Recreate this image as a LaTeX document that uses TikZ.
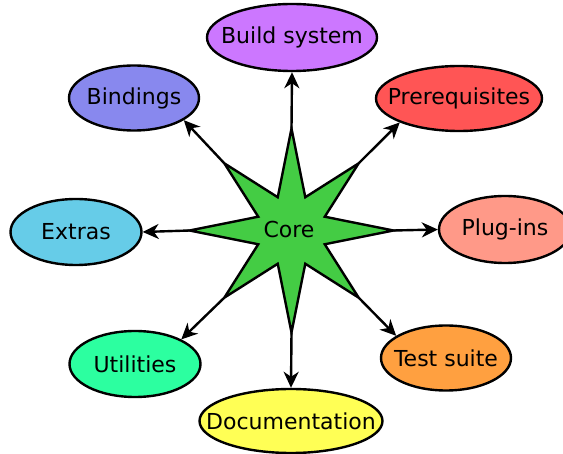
\documentclass[tikz,border=0pt]{standalone}
\usepackage{fontspec}
\setmainfont{DejaVu Sans}
\usetikzlibrary{arrows.meta,shapes.geometric,calc}
\definecolor{cbuild}{HTML}{CC77FF}
\definecolor{cprereq}{HTML}{FF5555}
\definecolor{cbind}{HTML}{8888EE}
\definecolor{cextra}{HTML}{66CCE8}
\definecolor{cplug}{HTML}{FF9988}
\definecolor{cutil}{HTML}{2CFFA0}
\definecolor{ctest}{HTML}{FFA040}
\definecolor{cdoc}{HTML}{FFFF55}
\definecolor{cstar}{HTML}{44CC44}
\newcommand{\lbl}[1]{\makebox[0pt]{#1}}
\begin{document}
\begin{tikzpicture}[x=1pt,y=-1pt,
  font=\fontsize{22}{26}\selectfont,
  leaf/.style={ellipse, draw, line width=2.4pt, inner sep=0pt},
  conn/.style={line width=2.4pt, -{Stealth[length=16pt,width=15pt,inset=5pt]}}]
\useasboundingbox (0,0) rectangle (563,454);

% outer nodes
\node[leaf, fill=cbuild,  minimum width=170pt, minimum height=67pt] (bs) at (292,37.5) {\lbl{Build system}};
\node[leaf, fill=cprereq, minimum width=166pt, minimum height=65pt] (pr) at (459,98.5) {\lbl{Prerequisites}};
\node[leaf, fill=cbind,   minimum width=130pt, minimum height=65pt] (bi) at (134,98) {\lbl{Bindings}};
\node[leaf, fill=cextra,  minimum width=131pt, minimum height=66pt] (ex) at (76,232) {\lbl{Extras}};
\node[leaf, fill=cplug,   minimum width=132pt, minimum height=67pt] (pl) at (505,229.5) {\lbl{Plug-ins}};
\node[leaf, fill=cutil,   minimum width=131pt, minimum height=66pt] (ut) at (135,364) {\lbl{Utilities}};
\node[leaf, fill=ctest,   minimum width=130pt, minimum height=65pt] (ts) at (446,358) {\lbl{Test suite}};
\node[leaf, fill=cdoc,    minimum width=183pt, minimum height=64pt] (dc) at (291,421) {\lbl{Documentation}};

% star
\coordinate (sc) at (291.5,230.5);
\foreach \i in {0,...,7} {
  \pgfmathsetmacro\ang{\i*45}
  \pgfmathsetmacro\rad{mod(\i,2)==0 ? 102 : 95}
  \coordinate (o\i) at ($(sc)+(\ang:\rad)$);
  \coordinate (n\i) at ($(sc)+(\ang+22.5:36)$);
}
\draw[fill=cstar, line width=2.4pt, line join=miter]
  (o0) -- (n0) -- (o1) -- (n1) -- (o2) -- (n2) -- (o3) -- (n3) --
  (o4) -- (n4) -- (o5) -- (n5) -- (o6) -- (n6) -- (o7) -- (n7) -- cycle;
\node (core) at (289,229) {Core};

% connectors
\draw[conn] (o6) -- (bs.south);
\draw[conn] (o7) -- (pr.202);
\draw[conn] (o0) -- (pl.west);
\draw[conn] (o1) -- (ts.156);
\draw[conn] (o2) -- (dc.north);
\draw[conn] (o3) -- (ut.28);
\draw[conn] (o4) -- (ex.east);
\draw[conn] (o5) -- (bi.336);
\end{tikzpicture}
\end{document}
